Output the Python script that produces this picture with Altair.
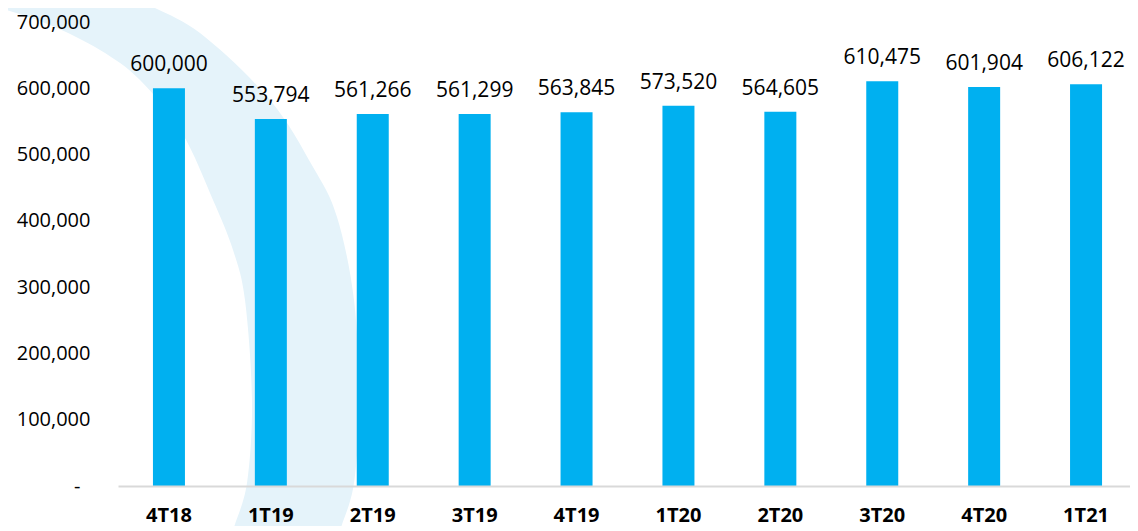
import altair as alt
import pandas as pd

categories = ["4T18", "1T19", "2T19", "3T19", "4T19", "1T20", "2T20", "3T20", "4T20", "1T21"]
values = [600000, 553794, 561266, 561299, 563845, 573520, 564605, 610475, 601904, 606122]
y_ticks = [0, 100000, 200000, 300000, 400000, 500000, 600000, 700000]

df = pd.DataFrame({"cat": categories, "val": values})
one = pd.DataFrame({"k": [0]})

FONT = "Open Sans"
BAR = "#00B0F0"
BAND = "#E5F3FA"

# Decorative background swoosh (not data): outline in page pixels
OX, OY = 118, 22
SWOOSH_OUTER = [(100, -30), (140, 0), (200, 33), (270, 100), (313, 167), (337, 217),
                (354, 300), (359, 400), (354, 483), (340, 531), (330, 570)]
SWOOSH_INNER = [(225, 570), (233, 531), (247, 483), (252, 400), (245, 300), (233, 250),
                (213, 200), (182, 133), (140, 80), (100, 50), (50, 25), (0, 8), (-60, -10)]


def smooth_path(pts):
    pts = [(x - OX, y - OY) for x, y in pts]
    d = "M%.1f,%.1f" % pts[0]
    n = len(pts)
    for i in range(n - 1):
        p0 = pts[i - 1] if i > 0 else pts[i]
        p1, p2 = pts[i], pts[i + 1]
        p3 = pts[i + 2] if i + 2 < n else pts[i + 1]
        c1 = (p1[0] + (p2[0] - p0[0]) / 6, p1[1] + (p2[1] - p0[1]) / 6)
        c2 = (p2[0] - (p3[0] - p1[0]) / 6, p2[1] - (p3[1] - p1[1]) / 6)
        d += "C%.1f,%.1f,%.1f,%.1f,%.1f,%.1f" % (c1 + c2 + p2)
    return d


swoosh_d = smooth_path(SWOOSH_OUTER)
inner_d = smooth_path(SWOOSH_INNER)
swoosh_d += "L" + inner_d[1:] + "Z"

x_enc = alt.X("cat:N", sort=categories, scale=alt.Scale(range=[0, 1019]),
              axis=alt.Axis(title=None, labelAngle=0, ticks=False, tickSize=0,
                            domainColor="#D9D9D9", domainWidth=2,
                            labelFont=FONT, labelFontSize=20, labelFontWeight="bold",
                            labelColor="#000000", labelPadding=35,
                            labelBaseline="alphabetic", zindex=1))
y_enc = alt.Y("val:Q", scale=alt.Scale(domain=[0, 700000], nice=False),
              axis=alt.Axis(title=None, values=y_ticks, grid=False, domain=False,
                            ticks=False, tickSize=0,
                            labelPadding={"condition": {"test": "datum.value === 0", "value": 38},
                                          "value": 28},
                            labelFont=FONT, labelFontSize=20, labelColor="#000000",
                            labelExpr="datum.value == 0 ? '-' : format(datum.value, ',')",
                            zindex=1))

swoosh = alt.Chart(one).mark_point(shape=swoosh_d, size=4, filled=True, fill=BAND,
                                   strokeWidth=0, opacity=1).encode(
    x=alt.value(0), y=alt.value(0))

bars = alt.Chart(df).mark_bar(color=BAR, size=32).encode(x=x_enc, y=y_enc)
labels = alt.Chart(df).mark_text(font=FONT, fontSize=21, color="#000000",
                                 baseline="alphabetic", dy=-17).encode(
    x=alt.X("cat:N", sort=categories),
    y="val:Q",
    text=alt.Text("val:Q", format=","))

chart = alt.layer(swoosh, bars, labels).properties(
    width=1012, height=464,
    autosize=alt.AutoSizeParams(type="none"),
    padding={"left": 110, "top": 14, "right": 0, "bottom": 40},
    background="#FFFFFF",
).configure_view(stroke=None)

chart.save("out.html", embed_options={"renderer": "svg", "actions": False})
